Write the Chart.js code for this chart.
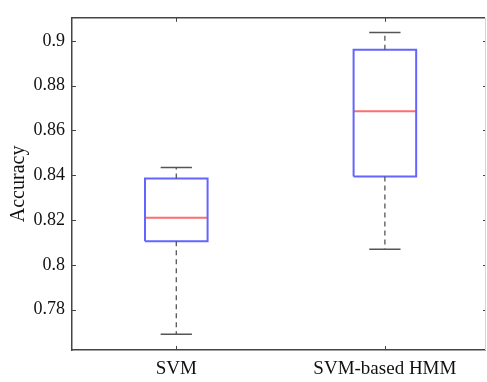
<!DOCTYPE html>
<html>
<head>
<meta charset="utf-8">
<script src="https://cdn.jsdelivr.net/npm/chart.js@4/dist/chart.umd.min.js"></script>
<style>
  html, body { margin: 0; padding: 0; background: #fff; }
  #wrap { width: 487px; height: 382px; }
</style>
</head>
<body>
<div id="wrap"><canvas id="boxChart" width="487" height="382"></canvas></div>
<script>
// ---- data ----
const categories = ["SVM", "SVM-based HMM"];
const whiskerLow = [0.769, 0.807];
const quartile1 = [0.8106, 0.8394];
const medians = [0.821, 0.8686];
const quartile3 = [0.8386, 0.896];
const whiskerHigh = [0.8435, 0.9037];

const yTicks = [0.78, 0.8, 0.82, 0.84, 0.86, 0.88, 0.9];
const yTickLabels = ["0.78", "0.8", "0.82", "0.84", "0.86", "0.88", "0.9"];

const boxHalf = 0.15;   // half width of a box, in category units
const capHalf = 0.075;  // half width of a whisker cap

const AXIS = "#444444";
const TEXT = "#111111";

// builds the point lists for each box part, one segment group per category
function buildSegments() {
    const box = [], median = [], whisk = [], caps = [];
    categories.forEach(function (name, i) {
        const x = i + 1;
        box.push({x: x - boxHalf, y: quartile1[i]}, {x: x + boxHalf, y: quartile1[i]},
                 {x: x + boxHalf, y: quartile3[i]}, {x: x - boxHalf, y: quartile3[i]},
                 {x: x - boxHalf, y: quartile1[i]}, {x: x, y: null});
        median.push({x: x - boxHalf, y: medians[i]}, {x: x + boxHalf, y: medians[i]}, {x: x, y: null});
        whisk.push({x: x, y: quartile3[i]}, {x: x, y: whiskerHigh[i]}, {x: x, y: null},
                   {x: x, y: quartile1[i]}, {x: x, y: whiskerLow[i]}, {x: x, y: null});
        caps.push({x: x - capHalf, y: whiskerHigh[i]}, {x: x + capHalf, y: whiskerHigh[i]}, {x: x, y: null},
                  {x: x - capHalf, y: whiskerLow[i]}, {x: x + capHalf, y: whiskerLow[i]}, {x: x, y: null});
    });
    return {box, median, whisk, caps};
}

// matlab style frame: top/right border and ticks pointing inward
const framePlugin = {
    id: "frame",
    afterDraw(chart) {
        const ctx = chart.ctx;
        const a = chart.chartArea;
        const xs = chart.scales.x, ys = chart.scales.y;
        const len = 4;
        ctx.save();
        ctx.lineWidth = 1.5;
        ctx.strokeStyle = AXIS;
        ctx.beginPath();
        ctx.moveTo(a.left, a.top); ctx.lineTo(a.right, a.top);
        ctx.stroke();
        // right edge is almost cut off in the original, only a faint line
        ctx.strokeStyle = "#d4d4d4";
        ctx.lineWidth = 1;
        ctx.beginPath();
        ctx.moveTo(a.right + 0.5, a.top); ctx.lineTo(a.right + 0.5, a.bottom);
        ctx.stroke();
        ctx.strokeStyle = AXIS;
        ctx.beginPath();
        yTicks.forEach(function (v) {
            const py = Math.round(ys.getPixelForValue(v)) + 0.5;
            ctx.moveTo(a.left, py); ctx.lineTo(a.left + len, py);
            ctx.moveTo(a.right, py); ctx.lineTo(a.right - 2, py);
        });
        categories.forEach(function (c, i) {
            const px = Math.round(xs.getPixelForValue(i + 1)) + 0.5;
            ctx.moveTo(px, a.bottom); ctx.lineTo(px, a.bottom - len);
            ctx.moveTo(px, a.top); ctx.lineTo(px, a.top + len);
        });
        ctx.stroke();
        ctx.restore();
    }
};

const seg = buildSegments();

new Chart(document.getElementById("boxChart"), {
    type: "scatter",
    data: {
        datasets: [
            {data: seg.whisk, showLine: true, spanGaps: false, borderColor: "#555555",
             borderWidth: 1.3, borderDash: [5, 4], pointRadius: 0},
            {data: seg.caps, showLine: true, spanGaps: false, borderColor: "#555555",
             borderWidth: 1.5, pointRadius: 0},
            {data: seg.box, showLine: true, spanGaps: false, borderColor: "rgb(100,100,255)",
             borderWidth: 2, pointRadius: 0},
            {data: seg.median, showLine: true, spanGaps: false, borderColor: "rgb(255,110,110)",
             borderWidth: 2, pointRadius: 0}
        ]
    },
    options: {
        responsive: false,
        animation: false,
        layout: {padding: {top: 9, right: 2, left: 0, bottom: 0}},
        plugins: {legend: {display: false}, tooltip: {enabled: false}},
        scales: {
            x: {
                type: "linear",
                min: 0.5,
                max: 2.48,
                afterBuildTicks: function (scale) {
                    scale.ticks = categories.map(function (c, i) { return {value: i + 1}; });
                },
                afterFit: function (scale) { scale.height = 32; },
                ticks: {
                    autoSkip: false,
                    maxRotation: 0,
                    padding: 8,
                    color: TEXT,
                    font: {family: "'Liberation Serif', serif", size: 19},
                    callback: function (value) { return categories[Math.round(value) - 1]; }
                },
                grid: {display: false, drawTicks: false},
                border: {display: true, color: AXIS, width: 1.5}
            },
            y: {
                min: 0.762,
                max: 0.9103,
                afterBuildTicks: function (scale) {
                    scale.ticks = yTicks.map(function (v) { return {value: v}; });
                },
                afterFit: function (scale) { scale.width = 72; },
                ticks: {
                    padding: 7,
                    color: TEXT,
                    font: {family: "'Liberation Serif', serif", size: 18},
                    callback: function (value, index) { return yTickLabels[index]; }
                },
                title: {
                    display: true,
                    text: "Accuracy",
                    color: TEXT,
                    padding: {top: 7, bottom: 0},
                    font: {family: "'Liberation Serif', serif", size: 20}
                },
                grid: {display: false, drawTicks: false},
                border: {display: true, color: AXIS, width: 1.5}
            }
        }
    },
    plugins: [framePlugin]
});
</script>
</body>
</html>
